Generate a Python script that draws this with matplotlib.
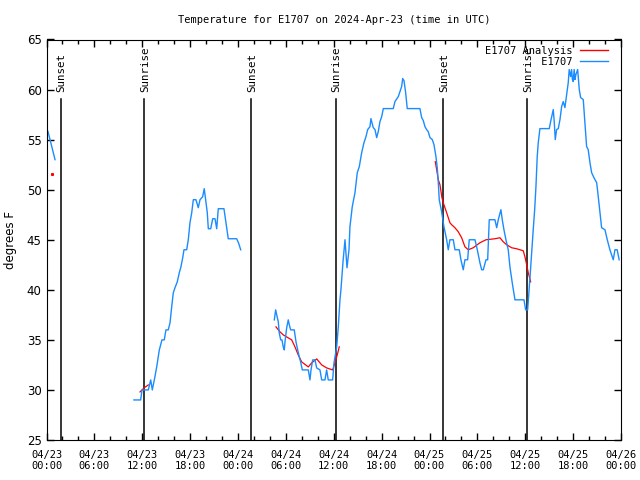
import matplotlib
matplotlib.use("Agg")
import matplotlib.pyplot as plt
import numpy as np

# hours since 04/23 00:00 UTC, temperature in F (nan = gap)
obs_h = [0.0, 0.19, 0.44, 0.69, 0.94, 1.07, np.nan,
         10.96, 11.80, 11.97, 12.76, 13.06, 13.26, 13.56, 13.81, 14.14, 14.47, 14.76, 14.97,
         15.26, 15.48, 15.69, 15.89, 16.10, 16.39, 16.64, 16.85, 17.07, 17.23, 17.57, 17.77,
         17.98, 18.20, 18.40, 18.73, 19.02, 19.24, 19.57, 19.77, 19.99, 20.15, 20.28, 20.58,
         20.83, 21.12, 21.33, 21.53, 22.24, 22.49, 22.78, 23.83, 24.06, 24.34, np.nan,
         28.55, 28.72, 28.85, 29.05, 29.17, 29.35, 29.51, 29.67, 29.80, 29.89, 30.10, 30.30,
         30.43, 30.60, 31.05, 31.27, 31.48, 31.68, 31.85, 32.06, 32.81, 33.02, 33.15, 33.36,
         33.65, 33.86, 34.27, 34.49, 34.90, 35.11, 35.31, 35.86, 36.03, 36.37, 36.57, 36.78,
         36.90, 37.16, 37.41, 37.66, 37.91, 38.03, 38.32, 38.66, 38.95, 39.20, 39.50, 39.79,
         40.04, 40.25, 40.54, 40.66, 40.95, 41.17, 41.38, 41.58, 41.79, 42.01, 42.21, 43.46,
         43.67, 44.09, 44.51, 44.64, 44.80, 45.01, 45.21, 46.80, 47.02, 47.22, 47.43, 47.64,
         47.84, 48.06, 48.35, 48.56, 48.81, 48.97, 49.12, 49.22, 49.52, 49.81, 50.15, 50.35,
         50.56, 50.98, 51.19, 51.73, 51.94, 52.23, 52.44, 52.78, 52.98, 53.70, 53.99, 54.32,
         54.54, 54.74, 55.08, 55.29, 55.49, 56.20, 56.42, 56.62, 56.95, 57.12, 57.33, 57.58,
         57.87, 58.08, 58.37, 58.71, 59.84, 60.05, 60.30, 60.59, 60.80, 61.00, 61.18, 61.34,
         61.50, 61.63, 61.84, 63.01, 63.18, 63.35, 63.51, 63.64, 63.76, 63.93, 64.14, 64.35,
         64.56, 64.76, 64.97, 65.19, 65.39, 65.51, 65.69, 65.81, 65.91, 66.01, 66.13, 66.23,
         66.35, 66.57, 66.77, 66.94, 67.27, 67.48, 67.69, 67.89, 68.11, 68.32, 68.61, 68.95,
         69.15, 69.36, 69.57, 69.99, 70.28, 70.61, 71.03, 71.24, 71.52, 71.77]
obs_t = [56.1, 55.8, 55.0, 54.2, 53.4, 53.0, np.nan,
         29.0, 29.0, 30.0, 30.0, 31.0, 30.0, 31.2, 32.3, 34.0, 35.0, 35.0, 36.0,
         36.0, 36.7, 38.3, 39.7, 40.2, 40.8, 41.7, 42.3, 43.2, 44.0, 44.0, 45.0,
         46.7, 47.7, 49.0, 49.0, 48.2, 49.0, 49.3, 50.1, 48.7, 47.7, 46.1, 46.1,
         47.1, 47.1, 46.1, 48.1, 48.1, 46.7, 45.1, 45.1, 44.7, 44.0, np.nan,
         37.0, 38.0, 37.5, 36.8, 35.7, 35.0, 35.0, 34.3, 34.0, 34.8, 36.2, 37.0,
         36.5, 36.0, 36.0, 34.8, 34.0, 33.3, 32.8, 32.0, 32.0, 31.0, 32.0, 33.0,
         33.0, 32.2, 32.0, 31.0, 31.0, 32.0, 31.0, 31.0, 32.7, 34.3, 36.3, 39.0,
         40.0, 42.8, 45.0, 42.2, 44.0, 46.3, 48.3, 49.7, 51.7, 52.3, 53.7, 54.7,
         55.3, 56.0, 56.3, 57.1, 56.2, 56.0, 55.2, 55.8, 56.8, 57.3, 58.1, 58.1,
         58.8, 59.3, 60.3, 61.1, 60.9, 59.7, 58.1, 58.1, 57.2, 56.9, 56.3, 56.0,
         55.8, 55.2, 55.0, 54.5, 53.3, 52.2, 50.5, 49.0, 47.8, 46.3, 45.0, 44.0,
         45.0, 45.0, 44.0, 44.0, 43.0, 42.0, 43.0, 43.0, 45.0, 45.0, 44.0, 42.7,
         42.0, 42.0, 43.0, 43.0, 47.0, 47.0, 46.2, 47.0, 48.0, 47.0, 46.0, 45.0,
         44.0, 42.3, 40.7, 39.0, 39.0, 38.0, 38.0, 41.2, 43.7, 46.0, 48.0, 50.3,
         53.3, 54.7, 56.1, 56.1, 56.8, 57.4, 58.0, 56.7, 55.0, 56.0, 56.1, 57.0,
         58.3, 58.8, 58.2, 59.5, 60.7, 62.0, 61.3, 62.0, 61.0, 60.8, 62.0, 61.0,
         61.5, 62.0, 60.0, 59.2, 59.0, 56.7, 54.3, 54.0, 52.7, 51.7, 51.2, 50.7,
         49.3, 47.7, 46.2, 46.0, 45.0, 44.0, 43.0, 44.0, 44.0, 43.0]

ana_h = [0.69, np.nan,
         11.72, 12.22, 12.76, np.nan,
         28.76, 29.26, 29.67, 30.30, 30.73, 31.14, 31.55, 31.98, 32.81, 33.23, 33.86,
         34.49, 35.11, 35.86, 36.15, 36.44, 36.69, np.nan,
         48.72, 48.90, 49.10, 49.31, 49.56, 49.72, 50.15, 50.56, 50.78, 51.19, 51.60,
         52.03, 52.44, 52.86, 53.48, 54.32, 55.08, 56.20, 56.83, 57.24, 57.67, 58.30,
         58.92, 59.75, 59.96, 60.18, 60.38, 60.68]
ana_t = [51.6, np.nan,
         29.8, 30.2, 30.5, np.nan,
         36.3, 35.8, 35.5, 35.2, 35.0, 34.3, 33.5, 32.8, 32.3, 32.7, 33.1,
         32.5, 32.2, 32.0, 32.7, 33.5, 34.3, np.nan,
         52.8, 52.0, 51.0, 50.5, 49.2, 48.7, 47.7, 46.7, 46.5, 46.2, 45.8,
         45.2, 44.3, 44.0, 44.2, 44.7, 45.0, 45.1, 45.2, 44.8, 44.5, 44.2,
         44.1, 43.9, 43.3, 42.5, 41.7, 40.8]

sun_h = [1.78, 12.26, 25.66, 36.24, 49.72, 60.25]
sun_lbl = ["Sunset", "Sunrise", "Sunset", "Sunrise", "Sunset", "Sunrise"]

tick_h = list(range(0, 73, 6))
tick_lbl = ["04/23\n00:00", "04/23\n06:00", "04/23\n12:00", "04/23\n18:00",
            "04/24\n00:00", "04/24\n06:00", "04/24\n12:00", "04/24\n18:00",
            "04/25\n00:00", "04/25\n06:00", "04/25\n12:00", "04/25\n18:00",
            "04/26\n00:00"]

mono = "DejaVu Sans Mono"
blue = "#1a8cff"

fig = plt.figure(figsize=(6.4, 4.8), dpi=100)
ax = fig.add_axes([46.5 / 640, 40 / 480, 574.5 / 640, 400.5 / 480])

for h, lbl in zip(sun_h, sun_lbl):
    ax.plot([h, h], [25, 59.1], color="black", lw=1.1)
    ax.text(h + 0.1, 59.8, lbl, rotation=90, ha="center", va="bottom",
            family=mono, fontsize=7.8)

ax.plot(ana_h, ana_t, color="red", lw=0.9, marker="s", markersize=1.2,
        markevery=[0], label="E1707 Analysis")
ax.plot(obs_h, obs_t, color=blue, lw=1.0, label="E1707".rjust(14))

ax.set_xlim(0, 72)
ax.set_ylim(25, 65)
ax.set_xticks(tick_h)
ax.set_xticklabels(tick_lbl, family=mono, fontsize=7.5)
ax.set_xticks(range(0, 73, 2), minor=True)
ax.set_yticks(range(25, 66, 5))
ax.tick_params(axis="y", labelsize=8.5)
ax.tick_params(which="major", direction="in", length=5, top=True, right=True, width=1)
ax.tick_params(which="minor", direction="in", length=3, top=True, right=False, width=1)
ax.tick_params(axis="x", pad=7)
ax.set_ylabel("degrees F", fontsize=8.5)
ax.yaxis.set_label_coords(-0.052, 0.5)

ax.set_title("Temperature for E1707 on 2024-Apr-23 (time in UTC)",
             family=mono, fontsize=7.5, pad=12)

leg = ax.legend(loc="upper right", bbox_to_anchor=(0.988, 1.0), frameon=False,
                markerfirst=False, prop={"family": mono, "size": 7.5},
                handlelength=2.7, handletextpad=0.7, labelspacing=0.08,
                borderaxespad=0.4, borderpad=0.2)
for line in leg.get_lines():
    line.set_marker("")
    line.set_linewidth(1.0)

fig.savefig("out.png", dpi=100)
